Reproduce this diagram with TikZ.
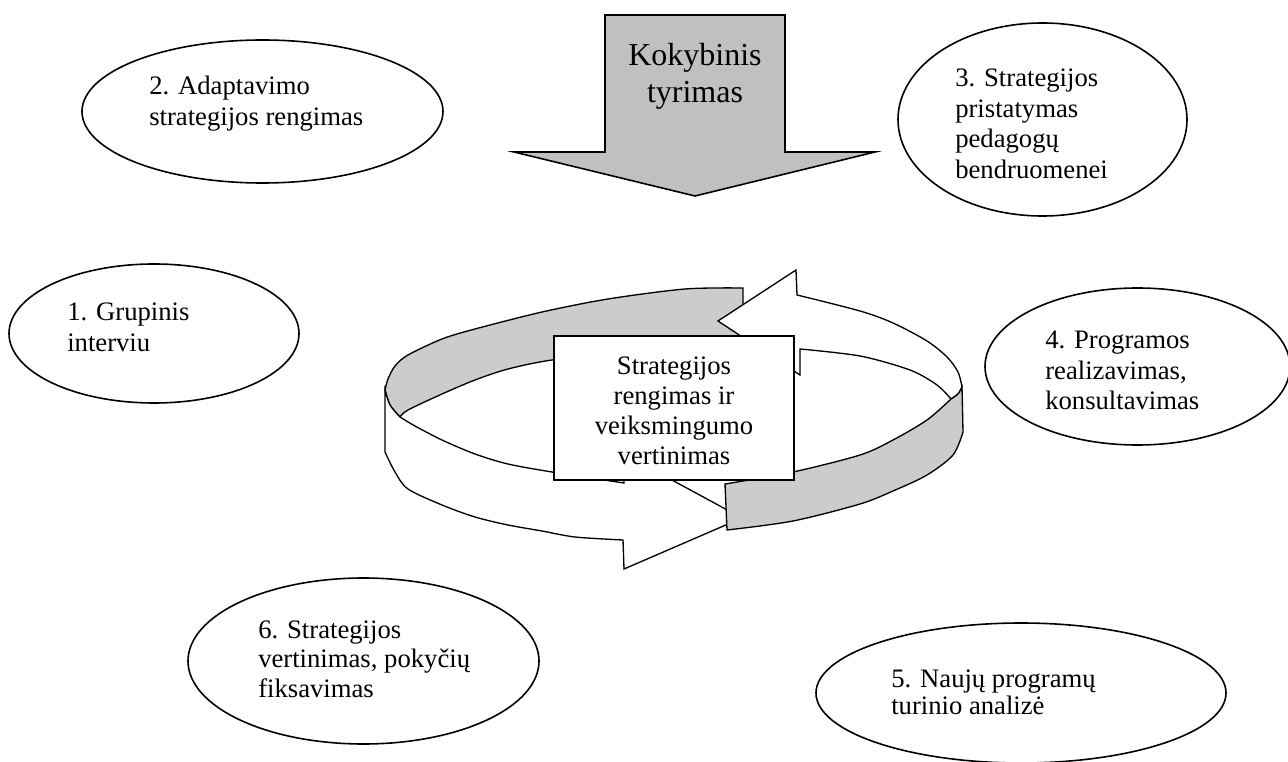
\documentclass[tikz,border=0pt]{standalone}
\usepackage{fontspec}
\setmainfont{Liberation Serif}
\usetikzlibrary{shapes.geometric}
\definecolor{ringgray}{HTML}{CCCCCC}
\definecolor{arrowgray}{HTML}{C0C0C0}
\begin{document}
\begin{tikzpicture}[x=0.75pt,y=-0.75pt,
  ell/.style={draw, line width=1.2pt, ellipse, inner sep=0pt},
  lbl/.style={anchor=north west, inner sep=0pt, align=left, font=\fontsize{20}{23}\selectfont},
  ring/.style={draw, line width=1pt, line join=miter}]
\useasboundingbox (0,0) rectangle (1288,762);

% top arrow
\filldraw[line width=1.2pt, fill=arrowgray] (605,15) -- (785,15) -- (785,152) -- (875,152) -- (695,196) -- (514,152) -- (605,152) -- cycle;
\node[anchor=north, inner sep=0pt, align=center, font=\fontsize{24}{27.75}\selectfont] (kok) at (695,43) {Kokybinis\\tyrimas};

% ellipses
\node[ell, minimum width=217.5pt, minimum height=104.25pt] (e1) at (154,333.5) {};
\node[ell, minimum width=270.75pt, minimum height=107.25pt] (e2) at (262.5,111.5) {};
\node[ell, minimum width=216.75pt, minimum height=144.75pt] (e3) at (1042.5,119.5) {};
\node[ell, minimum width=228.75pt, minimum height=117.75pt] (e4) at (1137.5,366.5) {};
\node[ell, minimum width=307.5pt, minimum height=105pt] (e5) at (1021,693) {};
\node[ell, minimum width=263.25pt, minimum height=124.5pt] (e6) at (363.5,661) {};

\node[lbl, font=\fontsize{20}{23.5}\selectfont] (t1) at (67,302.6) {1. Grupinis\\interviu};
\node[lbl, font=\fontsize{20}{23.25}\selectfont] (t2) at (149,75.6) {2. Adaptavimo\\strategijos rengimas};
\node[lbl, font=\fontsize{20}{23}\selectfont] (t3) at (955,68.6) {3. Strategijos\\pristatymas\\pedagogų\\bendruomenei};
\node[lbl, font=\fontsize{20}{23}\selectfont] (t4) at (1045,330.6) {4. Programos\\realizavimas,\\konsultavimas};
\node[lbl, font=\fontsize{20}{20}\selectfont] (t5) at (891,669.6) {5. Naujų programų\\turinio analizė};
\node[lbl, font=\fontsize{20}{22.1}\selectfont] (t6) at (258,620.6) {6. Strategijos\\vertinimas, pokyčių\\fiksavimas};

% ring: arrow A (grey back part, white front part)
\filldraw[ring, fill=ringgray] plot[smooth] coordinates {(743,288) (685,289) (608,299) (542,312) (475,329) (442,339) (408,355) (395,366) (388,379) (385,390)}
 -- plot[smooth] coordinates {(385,390) (390,405) (400,417)}
 -- plot[smooth] coordinates {(400,417) (408,410) (442,394) (475,380) (508,369) (552,360) (620,353) (743,350)}
 -- cycle;
\filldraw[ring, fill=white] (385,390) -- (385,452)
 -- plot[smooth] coordinates {(385,452) (395,472) (408,489) (442,505) (475,517) (508,525) (542,531) (575,537) (623,540)}
 -- (624,569) -- (742,518) -- (624,454) -- (624,483)
 -- plot[smooth] coordinates {(624,483) (552,472) (508,464) (475,454) (442,440) (415,426) (400,417)}
 -- plot[smooth] coordinates {(400,417) (390,405) (385,390)} -- cycle;

% ring: arrow B
\filldraw[ring, fill=white] (796,270) -- (797,295)
 -- plot[smooth] coordinates {(797,295) (860,311) (893,323) (927,341) (947,357) (958,372) (962,387)}
 -- plot[smooth] coordinates {(962,387) (958,394) (951,399)}
 -- plot[smooth] coordinates {(951,399) (937,385) (910,370) (860,356) (800,349)}
 -- (800,375) -- (718,321) -- cycle;
\filldraw[ring, fill=ringgray] (962,387) -- (963,432)
 -- plot[smooth] coordinates {(963,432) (953,455) (927,475) (893,491) (860,504) (793,521) (727,530)}
 -- (725,484)
 -- plot[smooth] coordinates {(725,484) (793,472) (860,455) (893,440) (927,420) (951,399)}
 -- plot[smooth] coordinates {(951,399) (958,394) (962,387)} -- cycle;

% central box
\node[draw, line width=1.2pt, fill=white, minimum width=180pt, minimum height=108pt, inner sep=0pt] (box) at (674,408) {};
\node[inner sep=0pt, align=center, font=\fontsize{20}{22.5}\selectfont] (boxtext) at (674,411) {Strategijos\\rengimas ir\\veiksmingumo\\vertinimas};
\end{tikzpicture}
\end{document}
